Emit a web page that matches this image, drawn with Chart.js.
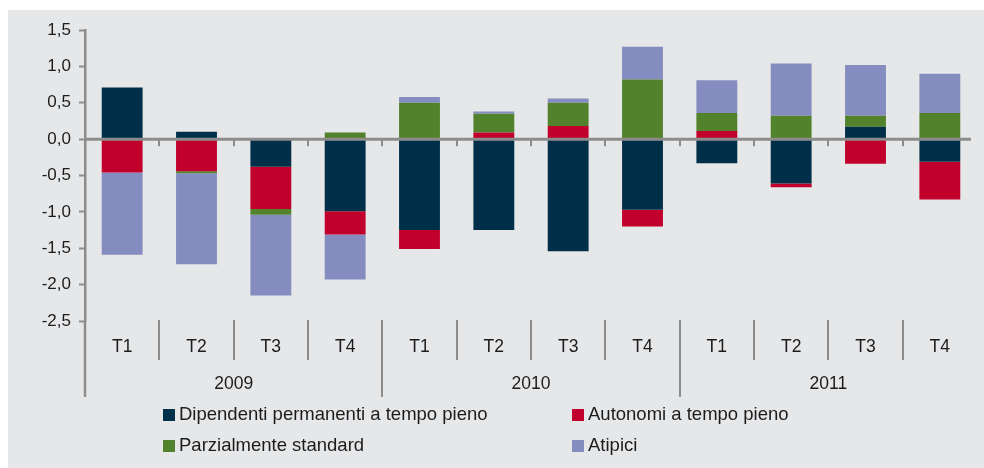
<!DOCTYPE html>
<html>
<head>
<meta charset="utf-8">
<script src="https://cdn.jsdelivr.net/npm/chart.js@4.4.1/dist/chart.umd.min.js"></script>
<style>
  body { margin: 0; background: #fff; }
  .panel { position: absolute; left: 8px; top: 10px; width: 976px; height: 458px; background: #e6e7e9; }
</style>
</head>
<body>
<div class="panel"><canvas id="chart" width="976" height="458"></canvas></div>
<script>
const quarters = ['T1', 'T2', 'T3', 'T4', 'T1', 'T2', 'T3', 'T4', 'T1', 'T2', 'T3', 'T4'];
const years = ['2009', '2010', '2011'];
const dipendenti = [0.71, 0.10, -0.38, -0.99, -1.25, -1.25, -1.54, -0.97, -0.33, -0.61, 0.17, -0.31];
const autonomi = [-0.46, -0.44, -0.58, -0.32, -0.26, 0.09, 0.18, -0.23, 0.11, -0.05, -0.34, -0.52];
const parziali = [0, -0.03, -0.08, 0.09, 0.50, 0.26, 0.32, 0.82, 0.25, 0.32, 0.15, 0.36];
const atipici = [-1.13, -1.25, -1.11, -0.62, 0.08, 0.03, 0.06, 0.45, 0.45, 0.72, 0.70, 0.54];

const FONT = "'Liberation Sans', Arial, sans-serif";
const AXIS = '#8c8c8c';
const TEXT = '#1c1c1c';

// zero line, category ticks, bottom labels and legend
const decorations = {
    id: 'decorations',
    afterDatasetsDraw(chart) {
        const { ctx, chartArea: a, scales: { x, y } } = chart;
        const y0 = y.getPixelForValue(0);
        ctx.save();
        ctx.strokeStyle = AXIS;
        ctx.lineWidth = 3;
        ctx.beginPath();
        ctx.moveTo(a.left, y0);
        ctx.lineTo(a.right - 6, y0);
        ctx.stroke();

        ctx.lineWidth = 2;
        for (let i = 1; i < quarters.length; i++) {
            const bx = Math.round(x.getPixelForValue(i - 0.5));
            ctx.beginPath();
            ctx.moveTo(bx, y0);
            ctx.lineTo(bx, y0 + 7);
            ctx.stroke();
            // dividers under the plot, longer between years
            ctx.beginPath();
            ctx.moveTo(bx, a.bottom - 1);
            ctx.lineTo(bx, i % 4 === 0 ? a.bottom + 76 : a.bottom + 39);
            ctx.stroke();
        }
        ctx.lineWidth = 2.5;
        ctx.beginPath();
        ctx.moveTo(a.left, a.bottom);
        ctx.lineTo(a.left, a.bottom + 76);
        ctx.stroke();

        ctx.fillStyle = TEXT;
        ctx.textAlign = 'center';
        ctx.textBaseline = 'middle';
        ctx.font = '17.5px ' + FONT;
        quarters.forEach((q, i) => ctx.fillText(q, x.getPixelForValue(i), a.bottom + 26));
        years.forEach((yr, j) => ctx.fillText(yr, x.getPixelForValue(j * 4 + 1.5), a.bottom + 63));

        ctx.font = '18.5px ' + FONT;
        ctx.textAlign = 'left';
        const cols = [155, 564];
        const rows = [a.bottom + 94, a.bottom + 125];
        chart.data.datasets.forEach((ds, k) => {
            const lx = cols[k % 2], ly = rows[Math.floor(k / 2)];
            ctx.fillStyle = ds.backgroundColor;
            ctx.fillRect(lx, ly - 6, 12, 12);
            ctx.fillStyle = TEXT;
            ctx.fillText(ds.label, lx + 16, ly);
        });
        ctx.restore();
    }
};

const ctx = document.getElementById('chart').getContext('2d');
new Chart(ctx, {
    type: 'bar',
    data: {
        labels: quarters,
        datasets: [
            { label: 'Dipendenti permanenti a tempo pieno', data: dipendenti, backgroundColor: '#003049' },
            { label: 'Autonomi a tempo pieno', data: autonomi, backgroundColor: '#c1002b' },
            { label: 'Parzialmente standard', data: parziali, backgroundColor: '#53822d' },
            { label: 'Atipici', data: atipici, backgroundColor: '#858cbf' }
        ]
    },
    options: {
        responsive: false,
        animation: false,
        layout: { padding: { left: 0, top: 20, right: 7, bottom: 147 } },
        datasets: { bar: { categoryPercentage: 1, barPercentage: 0.55, borderWidth: 0 } },
        plugins: { legend: { display: false }, tooltip: { enabled: false } },
        scales: {
            x: { stacked: true, display: false },
            y: {
                stacked: true,
                min: -2.5,
                max: 1.5,
                afterFit: (scale) => { scale.width = 77; },
                ticks: {
                    stepSize: 0.5,
                    padding: 8,
                    color: TEXT,
                    font: { family: FONT, size: 17 },
                    callback: (v) => v.toFixed(1).replace('.', ',')
                },
                grid: { drawOnChartArea: false, tickLength: 6, tickColor: AXIS, tickWidth: 2 },
                border: { display: true, color: AXIS, width: 2.5 }
            }
        }
    },
    plugins: [decorations]
});
</script>
</body>
</html>
